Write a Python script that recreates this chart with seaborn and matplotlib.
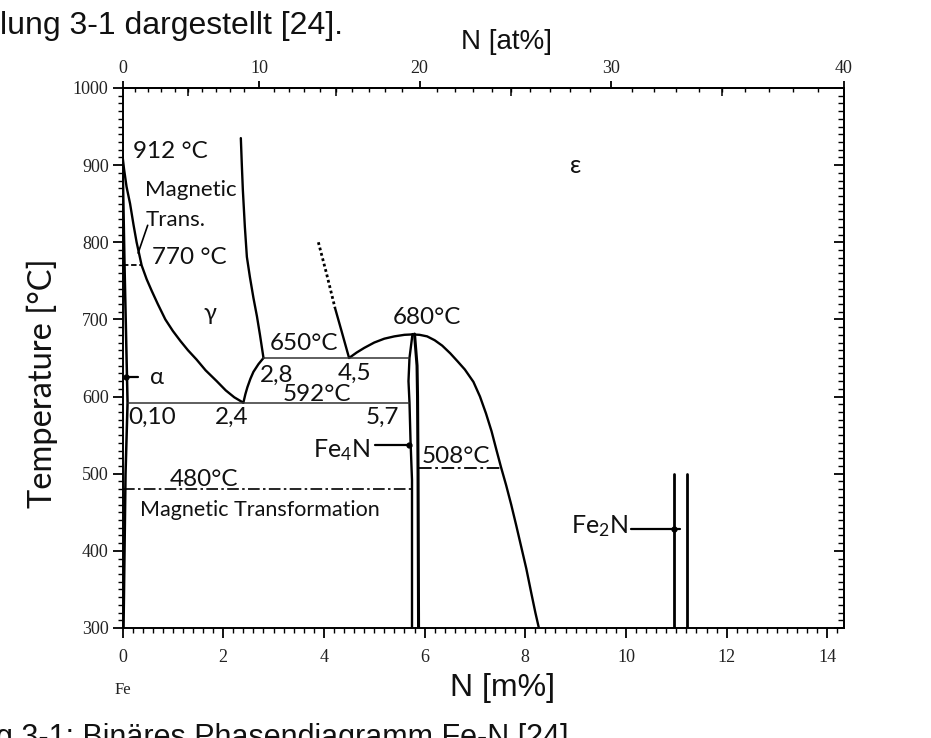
import numpy as np
import matplotlib
matplotlib.use("Agg")
import matplotlib.pyplot as plt
from matplotlib.ticker import MultipleLocator, FixedLocator
import seaborn as sns

# ---------------- phase boundaries (N in mass-%, temperature in °C) ----------------
alpha_x = [0.0, 0.04, 0.10, 0.06, 0.02]
alpha_t = [912, 770, 592, 500, 300]

gamma_alpha_x = [0.0, 0.03, 0.08, 0.15, 0.22, 0.28, 0.38, 0.48, 0.58, 0.70, 0.85,
                 1.0, 1.15, 1.30, 1.47, 1.65, 1.87, 2.05, 2.22, 2.4]
gamma_alpha_t = [912, 895, 872, 850, 822, 800, 770, 752, 737, 720, 700,
                 685, 672, 660, 648, 634, 620, 608, 599, 592]

gamma_right_x = [2.4, 2.44, 2.48, 2.54, 2.6, 2.7, 2.8]
gamma_right_t = [592, 603, 612, 623, 632, 642, 650]

gamma_upper_x = [2.35, 2.37, 2.39, 2.43, 2.47, 2.53, 2.60, 2.67, 2.73, 2.8]
gamma_upper_t = [935, 900, 868, 820, 781, 755, 728, 704, 680, 650]

eps_dotted_x = [3.89, 4.05, 4.22]
eps_dotted_t = [800, 760, 715]
eps_solid_x = [4.22, 4.35, 4.5]
eps_solid_t = [715, 685, 650]

eps_x = [4.5, 4.65, 4.8, 5.0, 5.2, 5.4, 5.6, 5.75, 5.9, 6.05, 6.2, 6.35, 6.51, 6.65,
         6.8, 6.97, 7.1, 7.22, 7.33, 7.43, 7.52, 7.62, 7.72, 7.82, 7.92, 8.02, 8.12,
         8.2, 8.27]
eps_t = [650, 657, 663, 670, 675, 678, 680, 680.5, 680, 678, 673, 666, 656, 646,
         635, 619, 600, 578, 555, 530, 508, 485, 460, 433, 405, 377, 345,
         320, 300]

fe4n_left_x = [5.76, 5.70, 5.68, 5.70, 5.72, 5.74, 5.75, 5.75]
fe4n_left_t = [681, 650, 620, 592, 544, 509, 492, 300]
fe4n_right_x = [5.80, 5.85, 5.86, 5.87, 5.88]
fe4n_right_t = [681, 640, 600, 500, 300]

fe2n_left_x = [10.96, 10.96]
fe2n_right_x = [11.22, 11.22]
fe2n_t = [300, 500]

# isotherms: (start, end, temperature)
iso_650 = (2.8, 5.70, 650)
iso_592 = (0.10, 5.70, 592)
iso_480 = (0.0, 5.75, 480)
iso_508 = (5.88, 7.52, 508)
iso_770 = (0.0, 0.38, 770)

# ---------------- axis scales ----------------
T_MIN, T_MAX = 300, 1000
M_MAX = 14.326
bottom_ticks = [0, 2, 4, 6, 8, 10, 12, 14]
left_ticks = [300, 400, 500, 600, 700, 800, 900, 1000]
top_ticks = [0, 10, 20, 30, 40]


def m2a(m):
    m = np.asarray(m, dtype=float)
    n = m / 14.007
    fe = (100.0 - m) / 55.845
    return 100.0 * n / (n + fe)


def a2m(a):
    a = np.asarray(a, dtype=float)
    return 100.0 * 14.007 * a / (14.007 * a + 55.845 * (100.0 - a))


sns.set_theme(style="ticks")
plt.rcParams['font.family'] = ['Lato', 'DejaVu Sans']
plt.rcParams['mathtext.fontset'] = 'custom'
plt.rcParams['mathtext.rm'] = 'Lato'
plt.rcParams['mathtext.it'] = 'Lato:italic'

fig = plt.figure(figsize=(9.31, 7.38), dpi=100)
ax = fig.add_axes([0.1316, 0.1491, 0.7747, 0.7317])
ax.set_xlim(0, M_MAX)
ax.set_ylim(T_MIN, T_MAX)

INK = "black"


def curve(x, t, lw=1.7, ls="-", color=INK):
    sns.lineplot(x=x, y=t, ax=ax, sort=False, estimator=None, color=color,
                 linewidth=lw, linestyle=ls, legend=False)


def isotherm(seg, lw=1.0, ls="-", color="#333333"):
    x0, x1, t = seg
    curve([x0, x1], [t, t], lw=lw, ls=ls, color=color)


curve(alpha_x, alpha_t, lw=1.8)
curve(gamma_alpha_x, gamma_alpha_t)
curve(gamma_right_x, gamma_right_t)
curve(gamma_upper_x, gamma_upper_t)
curve(eps_dotted_x, eps_dotted_t, lw=2.0, ls=(0, (1.0, 1.0)))
curve(eps_solid_x, eps_solid_t)
curve(eps_x, eps_t)
curve(fe4n_left_x, fe4n_left_t)
curve(fe4n_right_x, fe4n_right_t, lw=2.2)
curve(fe2n_left_x, fe2n_t, lw=2.0)
curve(fe2n_right_x, fe2n_t, lw=2.0)

isotherm(iso_650, lw=1.1)
isotherm(iso_592, lw=1.1)
isotherm(iso_480, lw=1.2, ls=(0, (7, 2, 1.5, 2)), color=INK)
isotherm(iso_508, lw=1.3, ls=(0, (7, 2, 1.5, 2)), color=INK)
isotherm(iso_770, lw=1.3, ls=(0, (3, 1.5)), color=INK)


# pointer lines
def pointer(x0, x1, t, dot_x=None):
    curve([x0, x1], [t, t], lw=1.6)
    ax.plot([x1 if dot_x is None else dot_x], [t], "o", color=INK, ms=3.5)


pointer(0.31, 0.06, 625)
pointer(5.02, 5.70, 537)
pointer(10.09, 11.08, 428, dot_x=10.96)
curve([0.50, 0.31], [822, 786], lw=1.2)

# ---------------- labels inside the diagram ----------------
num = dict(fontsize=17.5, color="#111111", va="center", ha="left")
word = dict(fontsize=16, color="#111111", va="center", ha="left")
ax.text(0.21, 917, "912 °C", **num)
ax.text(0.45, 868, "Magnetic", **word)
ax.text(0.45, 829, "Trans.", **word)
ax.text(0.58, 780, "770 °C", **num)
ax.text(1.74, 708, "γ", fontsize=17, color="#111111", va="center", ha="center")
ax.text(2.93, 669, "650°C", **num)
ax.text(2.73, 628, "2,8", **num)
ax.text(4.28, 630, "4,5", **num)
ax.text(3.19, 602, "592°C", **num)
ax.text(0.11, 573, "0,10", **num)
ax.text(1.84, 573, "2,4", **num)
ax.text(4.82, 573, "5,7", **num)
ax.text(3.79, 530, r"Fe$_4$N", fontsize=18, color="#111111", va="center", ha="left")
ax.text(0.94, 492, "480°C", **num)
ax.text(0.35, 453, "Magnetic Transformation", fontsize=15.5, color="#111111",
        va="center", ha="left")
ax.text(5.36, 702, "680°C", **num)
ax.text(5.95, 522, "508°C", **num)
ax.text(8.9, 432, r"Fe$_2$N", fontsize=18, color="#111111", va="center", ha="left")
ax.text(9.0, 900, "ε", fontsize=18, color="#111111", va="center", ha="center")
ax.text(0.55, 625, "α", fontsize=17, color="#111111", va="center", ha="left")

# ---------------- axes, ticks ----------------
for s in ax.spines.values():
    s.set_color(INK)
    s.set_linewidth(1.4)

serif = dict(fontfamily="Liberation Serif", fontsize=13, color="#222222")
ax.set_xticks(bottom_ticks, [str(v) for v in bottom_ticks], **serif)
ax.set_yticks(left_ticks, [str(v) for v in left_ticks], **serif)
ax.xaxis.set_minor_locator(MultipleLocator(0.2))
ax.yaxis.set_minor_locator(MultipleLocator(10))
ax.tick_params(which="major", direction="out", length=7, width=1.3, color=INK)
ax.tick_params(which="minor", direction="out", length=3.5, width=1.0, color=INK)
ax.tick_params(axis="x", which="major", pad=8)
ax.tick_params(axis="y", which="major", pad=3)
ax.tick_params(top=False, right=False, which="both")

top = ax.secondary_xaxis("top", functions=(m2a, a2m))
top.set_xticks(top_ticks, [str(v) for v in top_ticks], **serif)
top.xaxis.set_minor_locator(FixedLocator(list(range(1, 40))))
top.tick_params(which="major", direction="out", length=5, width=1.3, color=INK, pad=3)
top.tick_params(which="minor", direction="in", length=3, width=1.0, color=INK)
top.spines["top"].set_linewidth(1.4)

top_mid = ax.secondary_xaxis("top", functions=(m2a, a2m))
top_mid.set_xticks([5, 15, 25, 35], ["", "", "", ""])
top_mid.xaxis.set_minor_locator(FixedLocator([]))
top_mid.tick_params(direction="in", length=6, width=1.1, color=INK)
top_mid.spines["top"].set_visible(False)

right = ax.secondary_yaxis("right")
right.set_yticks(left_ticks, [""] * len(left_ticks))
right.yaxis.set_minor_locator(MultipleLocator(10))
right.tick_params(which="major", direction="in", length=7, width=1.3, color=INK)
right.tick_params(which="minor", direction="in", length=4, width=1.0, color=INK)
right.spines["right"].set_linewidth(1.4)

ax.set_ylabel("Temperature [°C]", fontsize=23.5, color="#111111")
ax.yaxis.set_label_coords(-0.0895, 0.4537)
ax.set_xlabel("")

fig.text(0.1316, 1 - 690 / 738, "Fe", fontfamily="Liberation Serif", fontsize=12,
         ha="center", va="center", color="#222222")
fig.text(503 / 931, 1 - 688 / 738, "N [m%]", fontfamily="Liberation Sans", fontsize=23,
         ha="center", va="center", color="#111111")
fig.text(507 / 931, 1 - 42 / 738, "N [at%]", fontfamily="Liberation Sans", fontsize=20,
         ha="center", va="center", color="#111111")

# running text of the surrounding page
fig.text(0.0, 1 - 34 / 738, "lung 3-1 dargestellt [24].", fontfamily="Liberation Sans",
         fontsize=23, ha="left", va="baseline", color="#111111")
fig.text(-0.004, 1 - 746 / 738, "g 3-1: Binäres Phasendiagramm Fe-N [24].",
         fontfamily="Liberation Sans", fontsize=22, ha="left", va="baseline", color="#111111")

fig.savefig("out.png", dpi=100, facecolor="white")
